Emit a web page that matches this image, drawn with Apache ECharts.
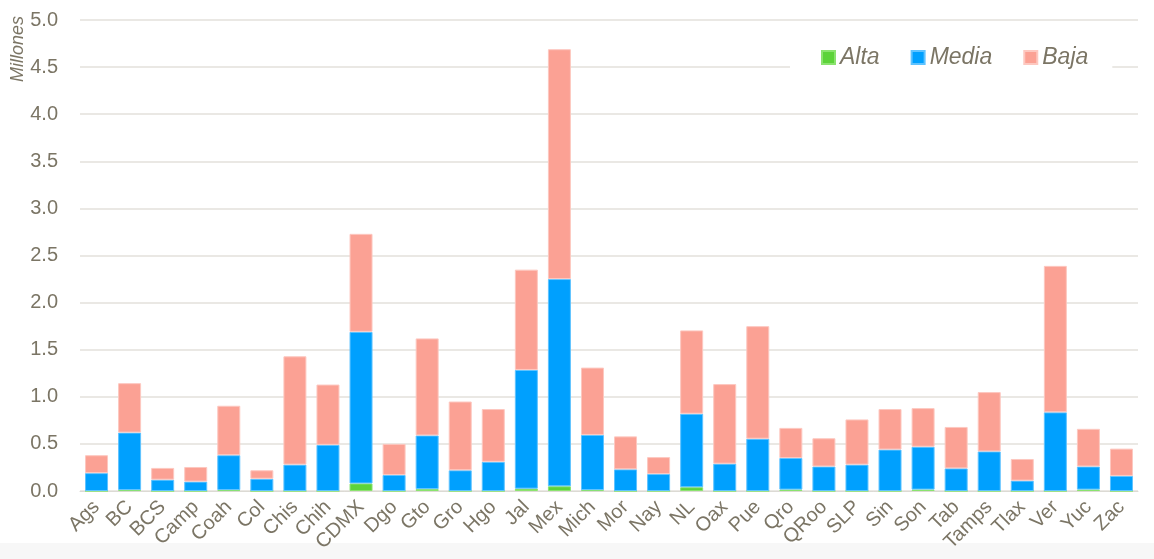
<!DOCTYPE html>
<html>
<head>
<meta charset="utf-8">
<script src="https://cdn.jsdelivr.net/npm/echarts@6/dist/echarts.min.js"></script>
<style>
  html, body { margin: 0; padding: 0; background: #fff; }
  #chart { width: 1154px; height: 559px; }
</style>
</head>
<body>
<div id="chart"></div>
<script>
var estados = ['Ags', 'BC', 'BCS', 'Camp', 'Coah', 'Col', 'Chis', 'Chih', 'CDMX', 'Dgo', 'Gto', 'Gro', 'Hgo', 'Jal', 'Mex', 'Mich',
    'Mor', 'Nay', 'NL', 'Oax', 'Pue', 'Qro', 'QRoo', 'SLP', 'Sin', 'Son', 'Tab', 'Tamps', 'Tlax', 'Ver', 'Yuc', 'Zac'];
var alta = [0, 0.01, 0, 0, 0.01, 0, 0, 0, 0.08, 0, 0.02, 0, 0, 0.025, 0.05, 0.01,
    0, 0, 0.04, 0, 0, 0.015, 0, 0, 0, 0.015, 0, 0, 0, 0, 0.015, 0];
var media = [0.19, 0.61, 0.12, 0.10, 0.37, 0.13, 0.28, 0.49, 1.61, 0.17, 0.57, 0.22, 0.31, 1.26, 2.20, 0.585,
    0.23, 0.18, 0.78, 0.29, 0.555, 0.335, 0.26, 0.28, 0.44, 0.455, 0.24, 0.42, 0.11, 0.835, 0.245, 0.16];
var baja = [0.19, 0.525, 0.125, 0.155, 0.525, 0.09, 1.15, 0.64, 1.04, 0.33, 1.03, 0.73, 0.56, 1.065, 2.44, 0.715,
    0.35, 0.18, 0.885, 0.845, 1.195, 0.32, 0.30, 0.48, 0.43, 0.41, 0.44, 0.63, 0.23, 1.555, 0.40, 0.29];

var textColor = '#7b7565';
var fuente = '"Liberation Sans", Arial, sans-serif';
var chart = echarts.init(document.getElementById('chart'));

function serie(nombre, datos, color, borde) {
    return {
        name: nombre,
        type: 'bar',
        stack: 'total',
        barWidth: 23,
        data: datos,
        itemStyle: { color: color, borderColor: borde, borderWidth: 1 }
    };
}

chart.setOption({
    animation: false,
    textStyle: { fontFamily: fuente },
    grid: { left: 80, right: 16, top: 20, bottom: 68 },
    legend: {
        left: 790,
        top: 42,
        padding: [4, 24, 4, 31],
        backgroundColor: '#fff',
        itemWidth: 13,
        itemHeight: 13,
        itemGap: 31,
        icon: 'rect',
        textStyle: { fontSize: 23, fontStyle: 'italic', color: textColor, fontFamily: fuente },
        data: ['Alta', 'Media', 'Baja']
    },
    xAxis: {
        type: 'category',
        data: estados,
        axisLine: { lineStyle: { color: '#dcdad4', width: 1 } },
        axisTick: { show: false },
        axisLabel: { rotate: 45, fontSize: 20, color: textColor, margin: 13, interval: 0, fontFamily: fuente }
    },
    yAxis: {
        type: 'value',
        min: 0,
        max: 5,
        interval: 0.5,
        axisLine: { show: false },
        axisTick: { show: false },
        axisLabel: {
            fontSize: 20, color: textColor, margin: 22, fontFamily: fuente,
            formatter: function (v) { return v.toFixed(1); }
        },
        splitLine: { lineStyle: { color: '#e3e1db', width: 1.5 } }
    },
    graphic: [
        {
            type: 'text',
            x: 18, y: 49,
            rotation: Math.PI / 2,
            style: {
                text: 'Millones', fill: textColor, fontSize: 18, fontStyle: 'italic',
                fontFamily: fuente,
                align: 'center', verticalAlign: 'middle'
            }
        },
        {
            type: 'rect', z: -10,
            shape: { x: 0, y: 543, width: 1154, height: 16 },
            style: { fill: '#f7f7f7' }
        }
    ],
    series: [
        serie('Alta', alta, '#5dd33a', '#8be36f'),
        serie('Media', media, '#00a0fe', '#5fc3ff'),
        serie('Baja', baja, '#fba194', '#fdc8c0')
    ]
});
</script>
</body>
</html>
